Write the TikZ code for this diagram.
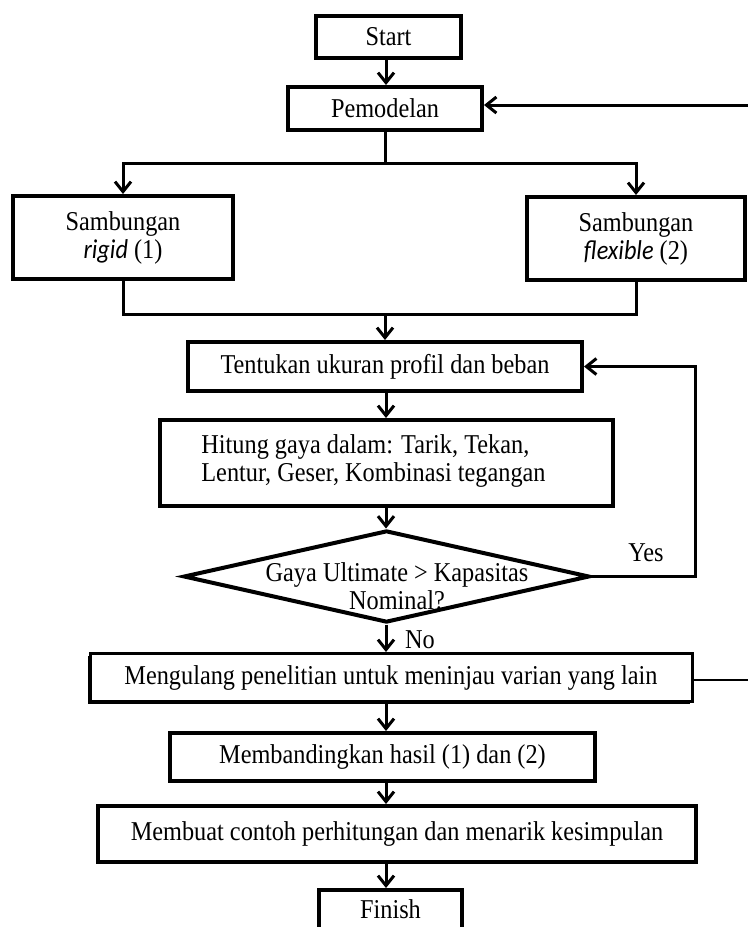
\documentclass[tikz,border=0pt]{standalone}
\usepackage{fontspec}
\setmainfont{Liberation Serif}
\newfontfamily\carl{Carlito}
\usepackage{graphicx}
\usetikzlibrary{arrows.meta,shapes.geometric,shadows,calc}
\newcommand{\tl}[1]{\scalebox{1}[1.12]{#1}}
\begin{document}
\begin{tikzpicture}[x=0.5pt,y=-0.5pt,
  every node/.style={font=\fontsize{12.15}{14}\selectfont, inner sep=0pt},
  box/.style={draw, fill=white, line width=2pt,
    drop shadow={shadow xshift=-1pt,shadow yshift=-1pt,fill=black,opacity=1}},
  conn/.style={line width=1.5pt},
  arr/.style={conn,-{Straight Barb[length=5pt,width=8pt]}},
]
\useasboundingbox (0,0) rectangle (748,927);

% nodes
\node[box, minimum width=72.5pt, minimum height=21pt] (start) at (388.5,37) {\tl{Start}};
\node[box, minimum width=97pt, minimum height=21.5pt] (pem) at (385,108.5) {\tl{Pemodelan}};
\node[box, minimum width=110pt, minimum height=41.5pt, align=center] (rigid) at (123,237.5)
  {\tl{Sambungan}\\\tl{{\carl\itshape rigid} (1)}};
\node[box, minimum width=109pt, minimum height=41.5pt, align=center] (flex) at (636,238.5)
  {\tl{Sambungan}\\\tl{{\carl\itshape flexible} (2)}};
\node[box, minimum width=197pt, minimum height=24.5pt] (tent) at (385,366.5)
  {\tl{Tentukan ukuran profil dan beban}};
\node[box, minimum width=226.5pt, minimum height=43pt] (hit) at (386.5,463) {};
\node[anchor=west, align=left] (hittxt) at (201,461)
  {\tl{Hitung gaya dalam: Tarik, Tekan,}\\\tl{Lentur, Geser, Kombinasi tegangan}};
\node[diamond, draw, fill=white, line width=2pt, minimum width=203pt, minimum height=46pt] (dec) at (386.5,576.5) {};
\node[align=center] (dectxt) at (397,586) {\tl{Gaya Ultimate > Kapasitas}\\\tl{Nominal?}};
\node[box, line width=1.5pt, minimum width=301pt, minimum height=24pt] (meng) at (391,677.5)
  {\tl{Mengulang penelitian untuk meninjau varian yang lain}};
\node[box, minimum width=212.5pt, minimum height=24pt] (band) at (382.5,757)
  {\tl{Membandingkan hasil (1) dan (2)}};
\node[box, minimum width=299pt, minimum height=28pt] (buat) at (397,834)
  {\tl{Membuat contoh perhitungan dan menarik kesimpulan}};
\node[box, anchor=north, minimum width=71.5pt, minimum height=40pt] (fin) at (390.5,888) {};
\node (fintxt) at (390.5,909) {\tl{Finish}};

\node (yes) at (646,553) {\tl{Yes}};
\node (no) at (420,640) {\tl{No}};

% helper coordinates
\coordinate (axis) at (386,0);
\coordinate (split) at (385,163);
\coordinate (merge) at (385,314);
\coordinate (fb) at (695,0);
\coordinate (redgeA) at (748,105);
\coordinate (redgeB) at (748,680);

% connectors
\draw[arr] (start.south -| axis) -- (pem.north -| axis);
\draw[conn] (pem.south) -- (split);
\draw[arr] (split) -| (rigid.north);
\draw[arr] (split) -| (flex.north);
\draw[conn] (rigid.south) |- (merge) -| (flex.south);
\draw[arr] (merge) -- (tent.north -| merge);
\draw[arr] (tent.south -| axis) -- (hit.north -| axis);
\draw[arr] (hit.south -| axis) -- (dec.north -| axis);
\draw[arr] (dec.east) -- (dec.east -| fb) |- (tent.east);
\draw[arr] (dec.south -| axis) -- (meng.north -| axis);
\draw[arr] (meng.south -| axis) -- (band.north -| axis);
\draw[arr] (band.south -| axis) -- (buat.north -| axis);
\draw[arr] (buat.south -| axis) -- (fin.north -| axis);
\draw[arr] (redgeA) -- (redgeA -| pem.east);
\draw[line width=1pt] (meng.east |- redgeB) -- (redgeB);
\end{tikzpicture}
\end{document}
